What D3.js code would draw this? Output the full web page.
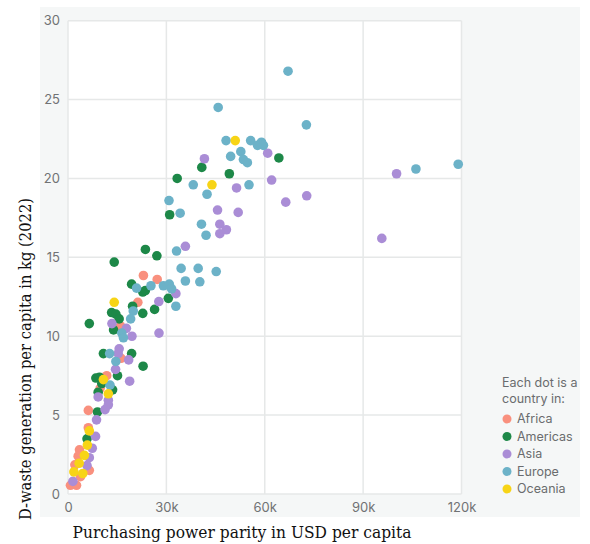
<!DOCTYPE html>
<html>
<head>
<meta charset="utf-8">
<script src="https://cdn.jsdelivr.net/npm/d3@7"></script>
<style>
  body { margin: 0; background: #fff; }
  svg { display: block; }
</style>
</head>
<body>
<div id="chart"></div>
<script>
// Each dot is one country: [PPP in USD per capita, D-waste kg per capita (2022)]
const regions = ["Africa", "Americas", "Asia", "Europe", "Oceania"];
const regionColors = ["#f9907e", "#1d8848", "#aa8dd6", "#6cb2c8", "#f7d416"];

const africa = [
  [23000, 13.85], [27200, 13.6], [21300, 12.15], [16000, 10.65], [16200, 8.6],
  [11800, 7.5], [9800, 6.7], [6200, 5.3], [6200, 4.2], [3500, 2.8],
  [3100, 2.4], [2100, 1.85], [6500, 1.5], [3800, 1.1], [750, 0.55], [2600, 0.55]
];
const americas = [
  [64300, 21.3], [40800, 20.7], [49200, 20.3], [33300, 20.0], [31000, 17.7],
  [23600, 15.5], [27100, 15.1], [14100, 14.7], [19400, 13.3], [22800, 12.8],
  [23600, 12.9], [30600, 12.4], [19700, 11.9], [22800, 11.45], [26400, 11.7],
  [13300, 11.5], [14600, 11.4], [15600, 11.1], [13900, 10.4], [6500, 10.8],
  [10800, 8.9], [19400, 8.9], [22900, 8.1], [15100, 7.5], [8500, 7.35],
  [9600, 7.4], [10300, 7.0], [13600, 6.6], [9200, 6.45], [9000, 5.2], [5800, 3.5]
];
const asia = [
  [60900, 21.6], [41600, 21.25], [51400, 19.4], [62100, 19.9], [66400, 18.5],
  [72800, 18.9], [45600, 18.0], [51900, 17.85], [46300, 17.1], [46300, 16.5],
  [48300, 16.75], [35800, 15.7], [100200, 20.3], [95700, 16.2], [32900, 12.7],
  [27700, 12.2], [27750, 10.2], [13400, 10.8], [17800, 10.5], [19500, 10.0],
  [15600, 9.2], [15300, 8.9], [18500, 8.5], [14500, 7.9], [18800, 7.15],
  [9200, 6.15], [12300, 5.95], [12300, 5.65], [11300, 5.35], [8700, 4.7],
  [8400, 3.65], [7400, 2.9], [6500, 2.3], [5800, 1.8], [1500, 0.8]
];
const europe = [
  [67100, 26.8], [72700, 23.4], [45800, 24.5], [48200, 22.4], [55700, 22.4],
  [59000, 22.3], [57800, 22.1], [59600, 22.1], [52700, 21.7], [49600, 21.4],
  [53500, 21.2], [54700, 21.0], [38200, 19.6], [55200, 19.6], [42400, 19.0],
  [30800, 18.6], [34200, 17.8], [40700, 17.1], [42100, 16.4], [33100, 15.4],
  [34500, 14.3], [39700, 14.3], [45200, 14.1], [35800, 13.5], [40200, 13.45],
  [106100, 20.6], [119000, 20.9], [20900, 13.05], [25300, 13.2], [29100, 13.2],
  [30900, 13.3], [31600, 13.0], [32900, 11.9], [19900, 11.6], [19100, 11.1],
  [16400, 10.2], [16900, 9.9], [12700, 8.9], [14600, 8.4], [12800, 6.9]
];
const oceania = [
  [51000, 22.4], [43900, 19.6], [14100, 12.15], [10800, 7.25], [12300, 6.35],
  [6500, 4.0], [5900, 3.1], [5000, 2.45], [3400, 1.95], [1800, 1.4], [4500, 1.3]
];

const xTicks = [0, 30000, 60000, 90000, 120000];
const yTicks = [0, 5, 10, 15, 20, 25, 30];
const xTitle = "Purchasing power parity in USD per capita";
const yTitle = "D-waste generation per capita in kg (2022)";
const legendTitle = ["Each dot is a", "country in:"];

const w = 590, h = 544;
const svg = d3.select("#chart").append("svg")
  .attr("width", w)
  .attr("height", h);

// outer light panel
svg.append("rect")
  .attr("x", 40).attr("y", 7)
  .attr("width", 540).attr("height", 510)
  .attr("fill", "#f5f7f7");

const x = d3.scaleLinear().domain([0, 120000]).range([68, 461.5]);
const y = d3.scaleLinear().domain([0, 30]).range([494, 20.7]);

// white plot area
svg.append("rect")
  .attr("x", x(0)).attr("y", y(30))
  .attr("width", x(120000) - x(0))
  .attr("height", y(0) - y(30))
  .attr("fill", "#fff");

// grid
svg.append("g")
  .selectAll("line")
  .data(yTicks)
  .join("line")
  .attr("x1", x(0)).attr("x2", x(120000))
  .attr("y1", d => y(d)).attr("y2", d => y(d))
  .attr("stroke", "#e6e8e8").attr("stroke-width", 1.5);

svg.append("g")
  .selectAll("line")
  .data(xTicks)
  .join("line")
  .attr("x1", d => x(d)).attr("x2", d => x(d))
  .attr("y1", y(0)).attr("y2", y(30))
  .attr("stroke", "#e6e8e8").attr("stroke-width", 1.5);

// axes (labels only)
const yAxis = svg.append("g")
  .attr("transform", `translate(${x(0)},0)`)
  .call(d3.axisLeft(y).tickValues(yTicks).tickSize(0).tickPadding(8));
const xAxis = svg.append("g")
  .attr("transform", `translate(0,${y(0)})`)
  .call(d3.axisBottom(x).tickValues(xTicks).tickSize(0).tickPadding(9)
    .tickFormat(d => d === 0 ? "0" : (d / 1000) + "k"));

[xAxis, yAxis].forEach(a => {
  a.select(".domain").remove();
  a.selectAll("text")
    .attr("fill", "#707274")
    .style("font-family", "Inter, 'Noto Sans', sans-serif")
    .style("font-size", "13px");
});

// dots
const series = [africa, americas, asia, europe, oceania];
series.forEach((pts, i) => {
  svg.append("g")
    .selectAll("circle")
    .data(pts)
    .join("circle")
    .attr("cx", d => x(d[0]))
    .attr("cy", d => y(d[1]))
    .attr("r", 4.8)
    .attr("fill", regionColors[i]);
});

// axis titles
svg.append("text")
  .attr("x", 72.5).attr("y", 538)
  .attr("textLength", 339)
  .attr("lengthAdjust", "spacingAndGlyphs")
  .style("font-family", "'DejaVu Serif', serif")
  .style("font-size", "17px")
  .attr("fill", "#111")
  .text(xTitle);

svg.append("text")
  .attr("transform", "translate(31,520) rotate(-90)")
  .attr("textLength", 322)
  .attr("lengthAdjust", "spacingAndGlyphs")
  .style("font-family", "'DejaVu Serif', serif")
  .style("font-size", "17px")
  .attr("fill", "#111")
  .text(yTitle);

// legend
const legend = svg.append("g")
  .style("font-family", "Inter, 'Noto Sans', sans-serif")
  .style("font-size", "12.5px")
  .attr("fill", "#6a6c6e");

legend.selectAll(".lt")
  .data(legendTitle)
  .join("text")
  .attr("class", "lt")
  .attr("x", 502)
  .attr("y", (d, i) => 386.5 + i * 16)
  .text(d => d);

const item = legend.selectAll(".li")
  .data(regions)
  .join("g")
  .attr("class", "li")
  .attr("transform", (d, i) => `translate(0,${419 + i * 17.5})`);
item.append("circle")
  .attr("cx", 507).attr("cy", 0).attr("r", 4.5)
  .attr("fill", (d, i) => regionColors[i]);
item.append("text")
  .attr("x", 517).attr("y", 0)
  .attr("dy", "0.35em")
  .text(d => d);
</script>
</body>
</html>
